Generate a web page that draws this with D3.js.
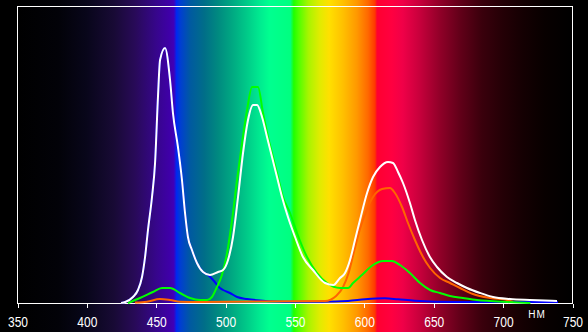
<!DOCTYPE html>
<html>
<head>
<meta charset="utf-8">
<script src="https://cdn.jsdelivr.net/npm/d3@7"></script>
<style>
  html, body { margin: 0; padding: 0; background: #000; }
  svg { display: block; }
</style>
</head>
<body>
<svg width="588" height="332"></svg>
<script>
// Tick labels (nm)
const ticks = [350, 400, 450, 500, 550, 600, 650, 700, 750];
const unitLabel = "НМ";

// Spectrum background: wavelength -> colour
const specNm = [350, 380, 400, 420, 435, 450, 460, 463, 465, 468, 475, 485, 495, 505, 515, 525, 532, 547, 549.5, 553, 560, 568, 575, 585, 595, 603, 608, 609.5, 620, 628, 640, 655, 670, 685, 700, 715, 730, 750];
const specColor = ["#000000", "#020208", "#08061a", "#180a35", "#280a58", "#36068a", "#3f00a8", "#4000b8", "#0028f0", "#0040d0", "#005aa0", "#006e88", "#008a80", "#00a882", "#00c888", "#00ea90", "#00ff90", "#00ff80", "#20ff00", "#50ff00", "#a8f400", "#e0ec00", "#ffe000", "#ffc000", "#ff9800", "#ff6800", "#ff3800", "#ff0030", "#ff0040", "#f00048", "#c8003c", "#900028", "#600018", "#3a000c", "#240006", "#140002", "#080000", "#000000"];

// Total (white)
const whiteNm = [425, 428, 433.6, 437.2, 440.1, 442.3, 444.4, 447.3, 449.5, 451.6, 453.1, 456.7, 460.3, 462.4, 466.0, 468.9, 471.1, 473.2, 476.1, 479.7, 484.1, 489.1, 494.9, 498.5, 502.1, 505.7, 509.3, 512.9, 516.5, 520.1, 523.0, 526.6, 530.2, 533.8, 537.4, 541.0, 545.3, 550.4, 556.1, 563.3, 572.0, 578, 582.8, 586.4, 590, 593.6, 597.2, 602.3, 606.6, 611.6, 617.4, 621, 624.6, 628.2, 633.2, 636.8, 641.9, 647.6, 652.7, 659.9, 667.1, 674.3, 683.7, 693.1, 705.3, 719.7, 739.2];
const whiteVal = [0, 1, 6, 13, 26, 46, 73, 106, 140, 206, 243, 255, 223, 190, 156, 123, 90, 66, 53, 40, 31, 28, 31, 33, 43, 66, 106, 150, 183, 198, 198, 186, 166, 146, 126, 106, 86, 66, 46, 33, 20, 18, 25, 30, 43, 63, 83, 110, 126, 136, 141, 140, 131, 120, 100, 83, 63, 46, 36, 26, 20, 15, 10, 6, 4, 3, 2];

// Blue channel
const blueNm = [425, 428, 433.6, 437.2, 440.1, 442.3, 444.4, 447.3, 449.5, 451.6, 453.1, 456.7, 460.3, 462.4, 466.0, 468.9, 471.1, 473.2, 476.1, 479.7, 484.1, 487.7, 491.3, 496.3, 498.5, 503.5, 508.6, 515.8, 525.1, 537.4, 549, 570, 588.6, 600.8, 615.2, 624.6, 636.8, 665.7, 739.9];
const blueVal = [0, 1, 6, 13, 26, 46, 73, 106, 140, 206, 243, 255, 223, 190, 156, 123, 90, 66, 53, 40, 31, 28, 23, 15, 13, 10, 6, 4, 2.5, 1.5, 1.3, 1.3, 2, 3.7, 4.7, 3.7, 2.3, 1, 1];

// Green channel
const greenNm = [430, 438.6, 448, 454.5, 460.3, 467.5, 474.7, 481.9, 487, 490.5, 494.1, 497.7, 501.4, 505, 508.6, 512.2, 515.8, 519.4, 523.7, 527.3, 530.9, 534.5, 538.1, 541.7, 546.8, 551.8, 559, 566.2, 573.4, 582.8, 588.6, 592.2, 598.6, 606.6, 613.8, 620.3, 626, 633.2, 640.5, 647.7, 654.9, 662.1, 671.4, 681.5, 690.9, 703.2, 720];
const greenVal = [0, 5, 11, 15, 15, 10, 5, 3, 3, 6, 16, 28, 50, 83, 123, 160, 193, 216, 216, 190, 166, 146, 126, 106, 90, 70, 46, 30, 20, 15, 15, 20, 28, 38, 42, 42, 38, 30, 20, 13, 10, 7, 5, 3, 2, 1, 0];

// Red channel (orange)
const redNm = [435, 443.7, 453, 460.3, 467.5, 482, 572, 580, 585, 589, 593, 597.2, 602.3, 606.6, 613.1, 618.8, 622.4, 627.5, 631.8, 636.8, 642.6, 647.7, 654.9, 662.1, 669.3, 678.6, 690.9, 703.2, 707.5];
const redVal = [0.5, 1.3, 4, 3, 1.3, 1, 2, 7, 16, 30, 52, 74, 94, 106, 114, 115, 110, 96, 80, 63, 46, 35, 25, 20, 15, 9, 5, 3, 1];

const svg = d3.select("svg"),
  width = +svg.attr("width"),
  height = +svg.attr("height");

const x = d3.scaleLinear().domain([350, 750]).range([17, 572]);
const y = d3.scaleLinear().domain([0, 297]).range([303, 6]);

// Spectrum gradient
const grad = svg.append("defs").append("linearGradient")
    .attr("id", "spec")
    .attr("gradientUnits", "userSpaceOnUse")
    .attr("x1", x(350)).attr("x2", x(750))
    .attr("y1", 0).attr("y2", 0);
grad.selectAll("stop")
    .data(specNm)
    .enter().append("stop")
    .attr("offset", d => (d - 350) / 400)
    .attr("stop-color", (d, i) => specColor[i]);

svg.append("rect")
    .attr("width", width).attr("height", height)
    .attr("fill", "url(#spec)");

// Frame
svg.append("rect")
    .attr("x", x(350) + 0.5).attr("y", y(297) + 0.5)
    .attr("width", x(750) - x(350))
    .attr("height", y(0) - y(297))
    .attr("fill", "none")
    .attr("stroke", "#fff")
    .attr("stroke-width", 1)
    .attr("shape-rendering", "crispEdges");

// Axis
const axis = svg.append("g")
    .attr("transform", `translate(0.5,${y(0) + 0.5})`)
    .call(d3.axisBottom(x).tickValues(ticks).tickSize(4).tickPadding(9).tickFormat(d3.format("d")));
axis.select(".domain").remove();
axis.selectAll("line").attr("stroke", "#fff").attr("shape-rendering", "crispEdges");
// narrow digits like the original
axis.selectAll("text")
    .attr("fill", "#fff")
    .attr("transform", "scale(0.8,1)")
    .style("font-family", "'Liberation Sans', Arial, sans-serif")
    .style("font-size", "15px");

svg.append("text")
    .attr("x", 537).attr("y", 318)
    .attr("text-anchor", "middle")
    .attr("fill", "#fff")
    .style("font-family", "'Liberation Sans', sans-serif")
    .style("font-size", "10px")
    .style("letter-spacing", "1px")
    .text(unitLabel);

// Curves
const line = d3.line()
    .x(d => x(d[0]))
    .y(d => y(d[1]))
    .curve(d3.curveMonotoneX);

const series = [
  { nm: blueNm, v: blueVal, color: "#0000ff" },
  { nm: redNm, v: redVal, color: "#ff6400" },
  { nm: greenNm, v: greenVal, color: "#00ff00" },
  { nm: whiteNm, v: whiteVal, color: "#ffffff" }
];

svg.append("g")
    .selectAll("path")
    .data(series)
    .enter()
    .append("path")
    .attr("d", s => line(s.nm.map((n, i) => [n, s.v[i]])))
    .attr("fill", "none")
    .attr("stroke", s => s.color)
    .attr("stroke-width", 2);
</script>
</body>
</html>
